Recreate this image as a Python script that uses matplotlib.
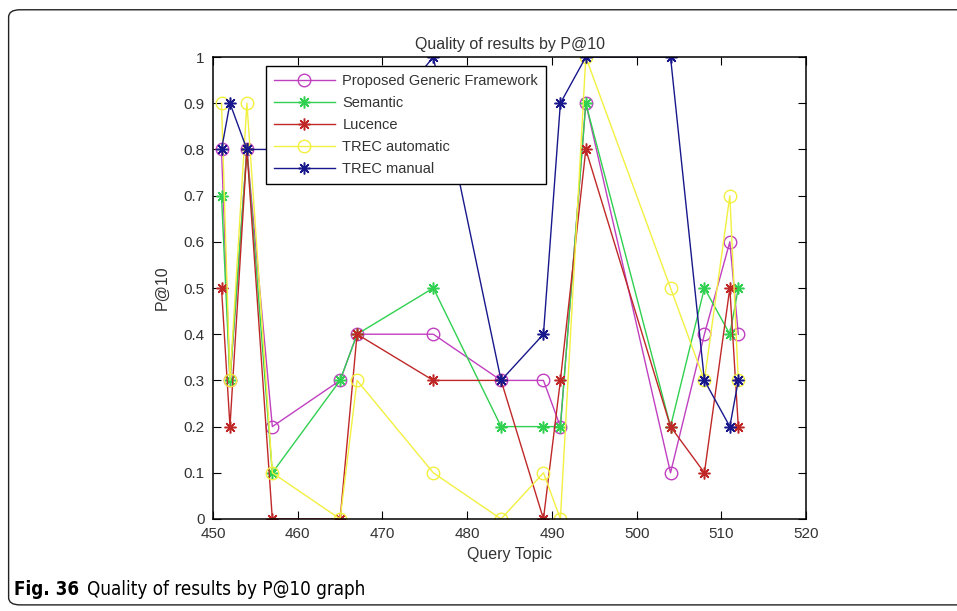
import matplotlib.pyplot as plt
from matplotlib.patches import FancyBboxPatch

# --- данные ---
topics = [451, 452, 454, 457, 465, 467, 476, 484, 489, 491, 494, 504, 508, 511, 512]

generic = [0.8, 0.3, 0.8, 0.2, 0.3, 0.4, 0.4, 0.3, 0.3, 0.2, 0.9, 0.1, 0.4, 0.6, 0.4]
semantic = [0.7, 0.3, 0.8, 0.1, 0.3, 0.4, 0.5, 0.2, 0.2, 0.2, 0.9, 0.2, 0.5, 0.4, 0.5]
lucence = [0.5, 0.2, 0.8, 0.0, 0.0, 0.4, 0.3, 0.3, 0.0, 0.3, 0.8, 0.2, 0.1, 0.5, 0.2]
trec_auto = [0.9, 0.3, 0.9, 0.1, 0.0, 0.3, 0.1, 0.0, 0.1, 0.0, 1.0, 0.5, 0.3, 0.7, 0.3]
trec_manual = [0.8, 0.9, 0.8, 0.8, 0.8, 0.8, 1.0, 0.3, 0.4, 0.9, 1.0, 1.0, 0.3, 0.2, 0.3]

x_ticks = [450, 460, 470, 480, 490, 500, 510, 520]
y_ticks = [0, 0.1, 0.2, 0.3, 0.4, 0.5, 0.6, 0.7, 0.8, 0.9, 1]
y_labels = ['0', '0.1', '0.2', '0.3', '0.4', '0.5', '0.6', '0.7', '0.8', '0.9', '1']

plt.rcParams['font.family'] = ['Liberation Sans', 'DejaVu Sans']
txt = '#333333'
star = (8, 2, 0)   # звёздочка как в MATLAB ('*')

fig = plt.figure(figsize=(9.57, 6.11), dpi=100)

# рамка вокруг рисунка (правый край уходит за пределы картинки)
frame = FancyBboxPatch((0.009, 0.01), 1.2, 0.974, boxstyle='round,pad=0,rounding_size=0.012',
                       transform=fig.transFigure, fill=False, edgecolor='#222222',
                       linewidth=1.0, clip_on=False)
fig.patches.append(frame)

ax = fig.add_axes([0.2226, 0.1506, 0.6197, 0.756])

ax.plot(topics, generic, '-', marker='o', color='#c040c0', mfc='none', ms=9, lw=1.0,
        label='Proposed Generic Framework')
ax.plot(topics, semantic, '-', marker=star, color='#30d050', ms=8.5, mew=1.1, lw=1.0,
        label='Semantic')
ax.plot(topics, lucence, '-', marker=star, color='#c02828', ms=8.5, mew=1.1, lw=1.0,
        label='Lucence')
ax.plot(topics, trec_auto, '-', marker='o', color='#f2f040', mfc='none', ms=9, lw=1.0,
        label='TREC automatic')
ax.plot(topics, trec_manual, '-', marker=star, color='#18188c', ms=8.5, mew=1.1, lw=1.0,
        label='TREC manual')

ax.set_xlim(450, 520)
ax.set_ylim(0, 1)
ax.set_xticks(x_ticks)
ax.set_yticks(y_ticks)
ax.set_yticklabels(y_labels)
ax.tick_params(direction='in', length=6, top=True, right=True, labelsize=11,
               labelcolor=txt, pad=6)
for s in ax.spines.values():
    s.set_linewidth(1.1)

ax.set_title('Quality of results by P@10', fontsize=11.5, color=txt, pad=6)
ax.set_xlabel('Query Topic', fontsize=11.5, color=txt, labelpad=4)
ax.set_ylabel('P@10', fontsize=11.5, color=txt, labelpad=10)

leg = ax.legend(loc='upper left', bbox_to_anchor=(0.089, 0.98), fontsize=10.5,
                fancybox=False, framealpha=1, edgecolor='black', borderaxespad=0,
                handlelength=4.2, labelspacing=0.55, borderpad=0.55, handletextpad=0.5)
leg.get_frame().set_linewidth(1.0)
for t in leg.get_texts():
    t.set_color(txt)

# подпись рисунка
t1 = fig.text(0.015, 0.027, 'Fig. 36', fontsize=13.5, fontweight='bold',
              family='DejaVu Sans', fontstretch='condensed')
fig.canvas.draw()
bb = t1.get_window_extent()
x2 = (bb.x1 + 8) / fig.bbox.width
fig.text(x2, 0.027, 'Quality of results by P@10 graph', fontsize=13.5,
         family='DejaVu Sans', fontstretch='condensed')

fig.savefig('out.png', dpi=100)
